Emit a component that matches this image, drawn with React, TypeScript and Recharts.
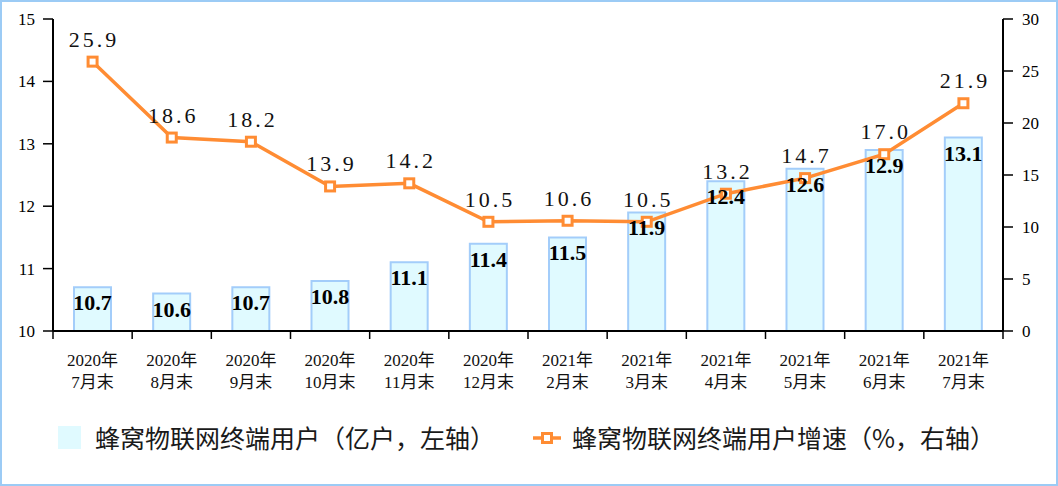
import React from "react";
import {
  ComposedChart,
  Bar,
  Line,
  XAxis,
  YAxis,
  LabelList,
} from "recharts";

const yearLabels = ["2020年", "2020年", "2020年", "2020年", "2020年", "2020年", "2021年", "2021年", "2021年", "2021年", "2021年", "2021年"];
const monthLabels = ["7月末", "8月末", "9月末", "10月末", "11月末", "12月末", "2月末", "3月末", "4月末", "5月末", "6月末", "7月末"];
const users = [10.7, 10.6, 10.7, 10.8, 11.1, 11.4, 11.5, 11.9, 12.4, 12.6, 12.9, 13.1];
const growth = [25.9, 18.6, 18.2, 13.9, 14.2, 10.5, 10.6, 10.5, 13.2, 14.7, 17.0, 21.9];
const leftTicks = [10, 11, 12, 13, 14, 15];
const rightTicks = [0, 5, 10, 15, 20, 25, 30];

const barLegend = "蜂窝物联网终端用户（亿户，左轴）";
const lineLegend = "蜂窝物联网终端用户增速（%，右轴）";

const data = yearLabels.map((y, i) => ({
  cat: `${y}${monthLabels[i]}`,
  year: y,
  month: monthLabels[i],
  users: users[i],
  growth: growth[i],
}));

const ORANGE = "#FF8C33";
const BAR_FILL = "#E0FAFF";
const BAR_STROKE = "#A3CDFA";
const SERIF = "Liberation Serif, Noto Sans CJK SC, serif";
const CJK = "'Noto Sans CJK SC', sans-serif";

if (typeof document !== "undefined") {
  document.body.style.margin = "0";
}

const W = 1054;
const H = 482;
const PLOT_LEFT = 51;
const PLOT_RIGHT = 1001;

const XTick = (props: any) => {
  const { x, y, index, payload } = props;
  const band = (PLOT_RIGHT - PLOT_LEFT) / data.length;
  const d = data[index] || data.find((r) => r.cat === payload.value);
  return (
    <g>
      <line x1={x - band / 2} x2={x - band / 2} y1={y} y2={y + 8} stroke="#000" strokeWidth={1.5} />
      {index === data.length - 1 && (
        <line x1={x + band / 2} x2={x + band / 2} y1={y} y2={y + 8} stroke="#000" strokeWidth={1.5} />
      )}
      <text x={x} y={y + 35} textAnchor="middle" fontFamily={SERIF} fontSize={17} fill="#111">
        {d ? d.year : ""}
      </text>
      <text x={x} y={y + 57} textAnchor="middle" fontFamily={SERIF} fontSize={17} fill="#111">
        {d ? d.month : ""}
      </text>
    </g>
  );
};

const YTick = (props: any) => {
  const { x, y, payload, textAnchor } = props;
  return (
    <text x={x} y={y + 6} textAnchor={textAnchor} fontFamily={SERIF} fontSize={17} fill="#000">
      {payload.value}
    </text>
  );
};

const BarLabel = (props: any) => {
  const { x, y, width, value } = props;
  return (
    <text
      x={x + width / 2}
      y={y + 23}
      textAnchor="middle"
      fontFamily={SERIF}
      fontWeight="bold"
      fontSize={22}
      fill="#000"
    >
      {Number(value).toFixed(1)}
    </text>
  );
};

const LineLabel = (props: any) => {
  const { x, y, value } = props;
  return (
    <text
      x={x + 1.5}
      y={y - 15}
      textAnchor="middle"
      fontFamily={SERIF}
      fontSize={22}
      letterSpacing={3}
      fill="#111"
    >
      {Number(value).toFixed(1)}
    </text>
  );
};

const SquareDot = (props: any) => {
  const { cx, cy, index } = props;
  if (cx == null || cy == null) return <g key={index} />;
  return (
    <rect
      key={index}
      x={cx - 4.5}
      y={cy - 4.5}
      width={9}
      height={9}
      fill="#fff"
      stroke={ORANGE}
      strokeWidth={3}
    />
  );
};

export default function App() {
  return (
    <div
      style={{
        position: "relative",
        width: W,
        height: H,
        border: "2px solid #9CCBF5",
        background: "#fff",
      }}
    >
      <ComposedChart
        width={W}
        height={H}
        data={data}
        margin={{ top: 17, right: 0, bottom: 93, left: 0 }}
        barCategoryGap={0}
      >
        <XAxis
          dataKey="cat"
          xAxisId="x"
          height={60}
          tickLine={false}
          tickSize={0}
          tickMargin={0}
          interval={0}
          axisLine={{ stroke: "#000", strokeWidth: 2 }}
          tick={<XTick />}
        />
        <YAxis
          yAxisId="left"
          orientation="left"
          width={51}
          domain={[10, 15]}
          ticks={leftTicks}
          tickSize={10}
          tickMargin={8}
          axisLine={{ stroke: "#000", strokeWidth: 2 }}
          tickLine={{ stroke: "#000", strokeWidth: 1.5 }}
          tick={<YTick />}
          allowDataOverflow
        />
        <YAxis
          yAxisId="right"
          orientation="right"
          width={53}
          domain={[0, 30]}
          ticks={rightTicks}
          tickSize={10}
          tickMargin={9}
          axisLine={{ stroke: "#000", strokeWidth: 2 }}
          tickLine={{ stroke: "#000", strokeWidth: 1.5 }}
          tick={<YTick />}
        />
        <Bar
          xAxisId="x"
          yAxisId="left"
          dataKey="users"
          barSize={37}
          fill={BAR_FILL}
          stroke={BAR_STROKE}
          strokeWidth={2}
          isAnimationActive={false}
        >
          <LabelList dataKey="users" content={<BarLabel />} />
        </Bar>
        <Line
          xAxisId="x"
          yAxisId="right"
          dataKey="growth"
          stroke={ORANGE}
          strokeWidth={3.5}
          dot={<SquareDot />}
          activeDot={false}
          isAnimationActive={false}
        >
          <LabelList dataKey="growth" content={<LineLabel />} />
        </Line>
      </ComposedChart>
      <div
        style={{
          position: "absolute",
          left: 0,
          top: 420,
          width: W,
          height: 34,
          fontFamily: CJK,
          fontSize: 25,
          color: "#1a1a1a",
        }}
      >
        <div style={{ position: "absolute", left: 56, top: 4, width: 23, height: 23, background: BAR_FILL }} />
        <div style={{ position: "absolute", left: 93, top: -2, whiteSpace: "nowrap", lineHeight: "34px" }}>
          {barLegend}
        </div>
        <svg style={{ position: "absolute", left: 531, top: 5 }} width={28} height={22}>
          <line x1={0} x2={28} y1={11} y2={11} stroke={ORANGE} strokeWidth={3.5} />
          <rect x={9.5} y={6.5} width={9} height={9} fill="#fff" stroke={ORANGE} strokeWidth={3} />
        </svg>
        <div style={{ position: "absolute", left: 570, top: -2, whiteSpace: "nowrap", lineHeight: "34px" }}>
          {lineLegend}
        </div>
      </div>
    </div>
  );
}
